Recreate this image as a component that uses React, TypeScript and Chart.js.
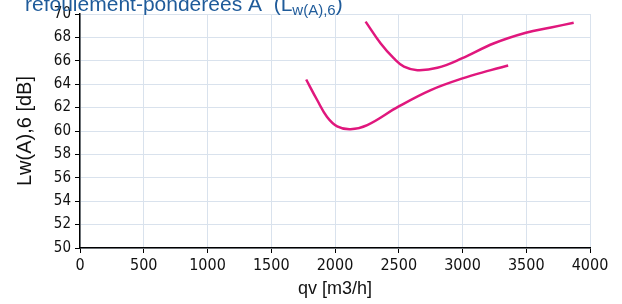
import React, { useEffect, useRef } from "react";
import { Chart, registerables } from "chart.js";

Chart.register(...registerables);

const curveLowQ = [1774, 1860, 1938, 2017, 2122, 2253, 2500, 2751, 3000, 3222, 3358];
const curveLowL = [64.4, 62.65, 61.2, 60.4, 60.15, 60.5, 62.1, 63.5, 64.5, 65.2, 65.6];
const curveHighQ = [2240, 2357, 2462, 2541, 2646, 2803, 2994, 3248, 3497, 3694, 3872];
const curveHighL = [69.35, 67.5, 66.2, 65.5, 65.2, 65.4, 66.2, 67.5, 68.4, 68.85, 69.25];

const xMin = 0, xMax = 4000, xStep = 500;
const yMin = 50, yMax = 70, yStep = 2;
const titleMain = "refoulement-pondérées A  (L";
const titleSub = "w(A),6";
const titleEnd = ")";
const xTitle = "qv [m3/h]";
const yTitle = "Lw(A),6 [dB]";

const FONT = "'Liberation Sans', Arial, sans-serif";
const NARROW = "'DejaVu Sans Condensed', 'Liberation Sans', sans-serif";

const titlePlugin = {
  id: "cutTitle",
  afterDraw(chart: any) {
    const ctx = chart.ctx;
    ctx.save();
    ctx.fillStyle = "#1f5b9a";
    ctx.textBaseline = "alphabetic";
    ctx.font = `21px ${FONT}`;
    let x = 25;
    ctx.fillText(titleMain, x, 11);
    x += ctx.measureText(titleMain).width;
    ctx.font = `15px ${FONT}`;
    ctx.fillText(titleSub, x, 15);
    x += ctx.measureText(titleSub).width;
    ctx.font = `21px ${FONT}`;
    ctx.fillText(titleEnd, x, 11);
    ctx.restore();
  },
};

const toPts = (xs: number[], ys: number[]) => xs.map((x, i) => ({ x, y: ys[i] }));

export default function App() {
  const ref = useRef<HTMLCanvasElement | null>(null);
  useEffect(() => {
    document.body.style.margin = "0";
    if (!ref.current) return;
    const lineStyle = {
      borderColor: "#e0177d",
      borderWidth: 2.5,
      pointRadius: 0,
      showLine: true,
      tension: 0.4,
      fill: false,
    };
    const chart = new Chart(ref.current, {
      type: "scatter",
      data: {
        datasets: [
          { ...lineStyle, data: toPts(curveLowQ, curveLowL) },
          { ...lineStyle, data: toPts(curveHighQ, curveHighL) },
        ],
      },
      options: {
        animation: false,
        responsive: false,
        layout: { padding: { top: 14, right: 32, left: 0, bottom: 0 } },
        plugins: { legend: { display: false }, tooltip: { enabled: false }, title: { display: false } },
        scales: {
          x: {
            type: "linear",
            min: xMin,
            max: xMax,
            ticks: { stepSize: xStep, color: "#111", font: { family: NARROW, size: 16 }, padding: 3, maxRotation: 0, autoSkip: false, callback: (v: any) => String(v) },
            grid: { color: "#d9e2ed", tickColor: "#000", tickLength: 5 },
            border: { color: "#000", width: 1.5 },
            title: { display: true, text: xTitle, color: "#111", font: { family: FONT, size: 18 }, padding: { top: 0 } },
            afterFit: (s: any) => { s.height = 56; },
          },
          y: {
            min: yMin,
            max: yMax,
            ticks: { stepSize: yStep, color: "#111", font: { family: NARROW, size: 15 }, padding: 4, autoSkip: false },
            grid: { color: "#d9e2ed", tickColor: "#000", tickLength: 5 },
            border: { color: "#000", width: 1.5 },
            title: { display: true, text: yTitle, color: "#111", font: { family: FONT, size: 20 }, padding: { top: 13, bottom: 0 } },
            afterFit: (s: any) => { s.width = 80; },
          },
        },
      },
      plugins: [titlePlugin],
    });
    return () => chart.destroy();
  }, []);
  return (
    <div style={{ width: 622, height: 304 }}>
      <canvas ref={ref} width={622} height={304} style={{ display: "block" }} />
    </div>
  );
}
